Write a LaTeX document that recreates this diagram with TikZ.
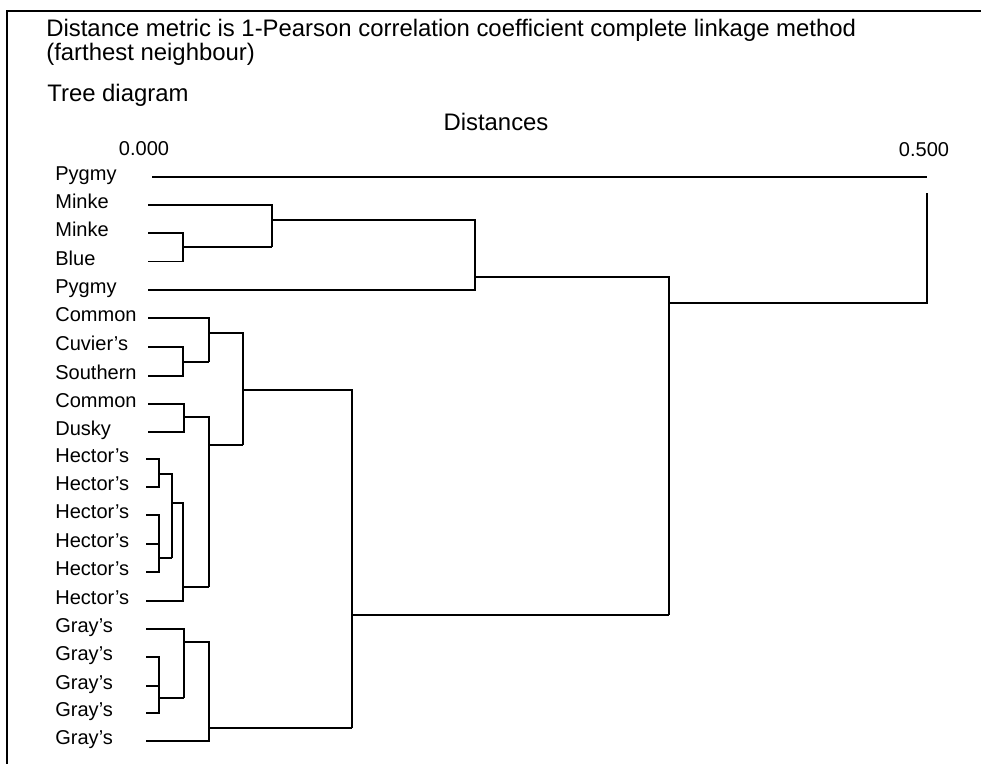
\documentclass[tikz,border=0pt]{standalone}
\usepackage{fontspec}
\setmainfont{Liberation Sans}
\usepackage{tikz}
\usetikzlibrary{positioning}

\begin{document}
\begin{tikzpicture}[
x=0.02cm, y=-0.02cm,
heading/.style={anchor=base west, inner sep=0pt, font=\fontsize{13.6}{16}\selectfont},
leaf/.style={anchor=base west, inner sep=0pt, font=\fontsize{11.4}{13}\selectfont},
scalelabel/.style={anchor=base, inner sep=0pt, font=\fontsize{11.4}{13}\selectfont},
branch/.style={line width=1.1pt},
frame/.style={line width=1.1pt}
]
\useasboundingbox (0,0) rectangle (981,764);
\draw[frame] (7,764) -- (7,11) -- (981,11);

% headings and distance scale
\node[heading] (title) at (46,36) {Distance metric is 1-Pearson correlation coefficient complete linkage method};
\node[heading] (title2) at (46,60) {(farthest neighbour)};
\node[heading] (tree) at (47,101.5) {Tree diagram};
\node[heading, anchor=base] (dist) at (496,130) {Distances};
\node[scalelabel] (zero) at (144,155) {0.000};
\node[scalelabel] (half) at (924,156) {0.500};

% leaf labels
\node[leaf] (pygmyA) at (55,180.5) {Pygmy};
\node[leaf] (minkeA) at (55,208.5) {Minke};
\node[leaf] (minkeB) at (55,236.5) {Minke};
\node[leaf] (blue) at (55,265) {Blue};
\node[leaf] (pygmyB) at (55,293.5) {Pygmy};
\node[leaf] (commonA) at (55,321.5) {Common};
\node[leaf] (cuvier) at (55,350.5) {Cuvier's};
\node[leaf] (southern) at (55,379.5) {Southern};
\node[leaf] (commonB) at (55,407.5) {Common};
\node[leaf] (dusky) at (55,435.5) {Dusky};
\node[leaf] (hectorA) at (55,462.5) {Hector's};
\node[leaf] (hectorB) at (55,490.5) {Hector's};
\node[leaf] (hectorC) at (55,518.5) {Hector's};
\node[leaf] (hectorD) at (55,547.5) {Hector's};
\node[leaf] (hectorE) at (55,575.5) {Hector's};
\node[leaf] (hectorF) at (55,604.5) {Hector's};
\node[leaf] (grayA) at (55,632.5) {Gray's};
\node[leaf] (grayB) at (55,660.5) {Gray's};
\node[leaf] (grayC) at (55,689.5) {Gray's};
\node[leaf] (grayD) at (55,716.5) {Gray's};
\node[leaf] (grayE) at (55,744.5) {Gray's};

% baleen whales
\draw[branch] (152,177) -- (927,177);
\draw[branch] (148,233) -- (183,233) -- (183,261.5) -- (148,261.5);
\draw[branch] (183,247) -- (272,247);
\draw[branch] (148,205) -- (272,205) -- (272,247);
\draw[branch] (272,220) -- (475,220) -- (475,290) -- (148,290);
\draw[branch] (475,277) -- (669,277) -- (669,615);
\draw[branch] (669,303) -- (927,303) -- (927,193);

% dolphins
\draw[branch] (148,347) -- (183,347) -- (183,376) -- (148,376);
\draw[branch] (183,362) -- (209,362);
\draw[branch] (148,318) -- (209,318) -- (209,362);
\draw[branch] (209,333) -- (243,333) -- (243,445);
\draw[branch] (148,404) -- (184,404) -- (184,432) -- (148,432);
\draw[branch] (184,417) -- (209,417) -- (209,587);
\draw[branch] (209,445) -- (243,445);
\draw[branch] (146,459) -- (159,459) -- (159,487) -- (146,487);
\draw[branch] (159,474) -- (172,474) -- (172,558);
\draw[branch] (146,515) -- (159,515) -- (159,572) -- (146,572);
\draw[branch] (146,544) -- (159,544);
\draw[branch] (159,558) -- (172,558);
\draw[branch] (172,503) -- (183,503) -- (183,601) -- (146,601);
\draw[branch] (183,587) -- (209,587);
\draw[branch] (243,390) -- (352,390) -- (352,728);
\draw[branch] (352,615) -- (669,615);

% Gray's
\draw[branch] (146,657) -- (159,657) -- (159,713) -- (146,713);
\draw[branch] (146,686) -- (159,686);
\draw[branch] (159,698) -- (184,698);
\draw[branch] (146,629) -- (184,629) -- (184,698);
\draw[branch] (184,642) -- (209,642) -- (209,741) -- (146,741);
\draw[branch] (209,728) -- (352,728);
\end{tikzpicture}
\end{document}
